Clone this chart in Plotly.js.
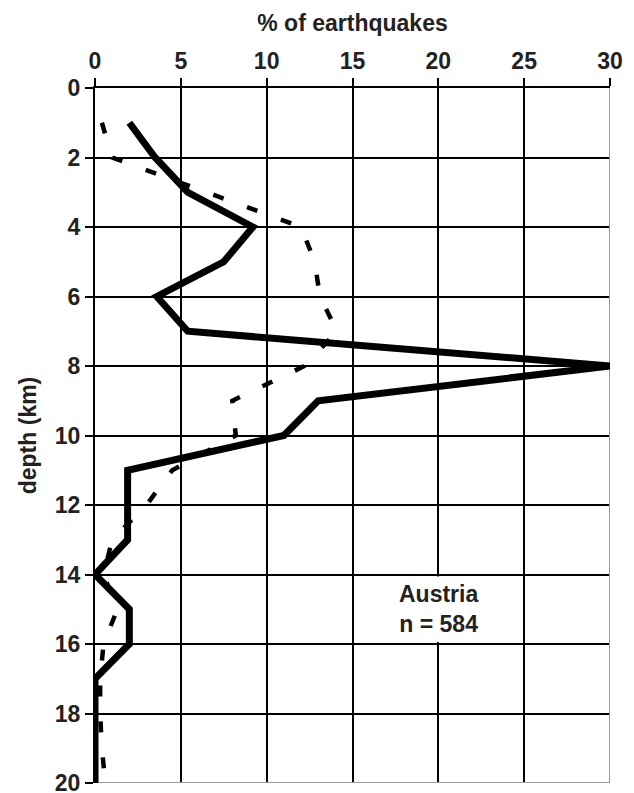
<!DOCTYPE html>
<html>
<head>
<meta charset="utf-8">
<script src="https://cdn.plot.ly/plotly-3.0.1.min.js"></script>
<style>
html,body{margin:0;padding:0;background:#fff;}
#chart{width:634px;height:793px;}
</style>
</head>
<body>
<div id="chart"></div>
<script>
// depth (km)
const depthKm = [1,2,3,4,5,6,7,8,9,10,11,12,13,14,15,16,17,18,19,20];
// % of earthquakes, solid line
const solidPct = [2.0,3.5,5.4,9.2,7.5,3.6,5.4,30.0,13.0,11.0,1.9,1.9,1.9,0.0,2.0,2.0,0.0,0.0,0.0,0.0];
// % of earthquakes, dashed line
const dashedPct = [0.4,1.0,6.5,12.0,12.8,13.1,14.1,12.2,8.0,8.2,4.5,3.0,1.0,0.5,1.3,0.5,0.3,0.3,0.4,0.6];
// axes
const xTicks = [0,5,10,15,20,25,30];
const yTicks = [0,2,4,6,8,10,12,14,16,18,20];
const annotationText = "Austria<br>n = 584";

const fontFam = "Liberation Sans, Arial, sans-serif";
const txtColor = "#222";

const traces = [
  {
    x: dashedPct, y: depthKm, type: "scatter", mode: "lines",
    line: {color: "#000", width: 4.5, dash: "11px,25px"},
    cliponaxis: false, hoverinfo: "skip", showlegend: false
  },
  {
    x: solidPct, y: depthKm, type: "scatter", mode: "lines",
    line: {color: "#000", width: 7},
    cliponaxis: false, hoverinfo: "skip", showlegend: false
  }
];

const layout = {
  width: 634, height: 793,
  margin: {l: 95, r: 24, t: 88, b: 10},
  paper_bgcolor: "#fff", plot_bgcolor: "#fff",
  showlegend: false,
  xaxis: {
    side: "top", range: [0, 30],
    tickvals: xTicks, ticktext: xTicks.map(String),
    showgrid: true, gridcolor: "#000", gridwidth: 2,
    zeroline: false, showline: true, linecolor: "#000", linewidth: 2,
    ticks: "outside", ticklen: 8, tickwidth: 2, tickcolor: "#000",
    ticklabeloverflow: "allow",
    tickfont: {family: fontFam, size: 23, color: txtColor, weight: "bold"},
    title: {text: "% of earthquakes", font: {family: fontFam, size: 23, color: txtColor, weight: "bold"}, standoff: 10},
    fixedrange: true
  },
  yaxis: {
    range: [20, 0],
    tickvals: yTicks, ticktext: yTicks.map(String),
    showgrid: true, gridcolor: "#000", gridwidth: 2,
    zeroline: false, showline: true, linecolor: "#000", linewidth: 2,
    ticks: "outside", ticklen: 8, tickwidth: 2, tickcolor: "#000",
    ticklabeloverflow: "allow",
    tickfont: {family: fontFam, size: 23, color: txtColor, weight: "bold"},
    title: {text: "depth (km)", font: {family: fontFam, size: 23, color: txtColor, weight: "bold"}, standoff: 12},
    fixedrange: true
  },
  shapes: [
    {type: "rect", xref: "x", yref: "y", x0: 16.2, x1: 23.8, y0: 14.06, y1: 15.94,
     fillcolor: "#fff", line: {width: 0}, layer: "between"},
    {type: "line", xref: "x", yref: "y", x0: 30, x1: 30, y0: 0, y1: 20,
     line: {color: "#999", width: 2}, layer: "between"},
    {type: "line", xref: "x", yref: "y", x0: 0, x1: 30, y0: 20, y1: 20,
     line: {color: "#999", width: 2}, layer: "between"}
  ],
  annotations: [
    {x: 20, y: 15, xref: "x", yref: "y", text: annotationText, showarrow: false,
     font: {family: fontFam, size: 23, color: txtColor, weight: "bold"}, align: "center"}
  ]
};

Plotly.newPlot("chart", traces, layout, {displayModeBar: false, staticPlot: true});
</script>
</body>
</html>
